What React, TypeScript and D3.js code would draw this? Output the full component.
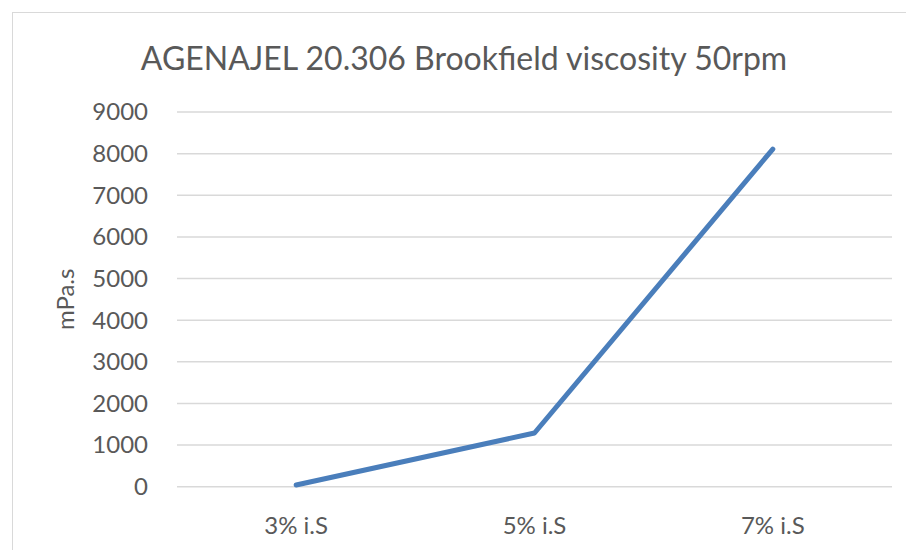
import React from 'react';
import * as d3 from 'd3';

const categories = ['3% i.S', '5% i.S', '7% i.S'];
const viscosity = [40, 1290, 8110];
const yTicks = [0, 1000, 2000, 3000, 4000, 5000, 6000, 7000, 8000, 9000];

const width = 906;
const height = 550;
const margin = { top: 112, right: 14, bottom: 63, left: 177 };
const font = 'Lato, "Open Sans", sans-serif';
const textColor = '#595959';

const App = () => {
  const x = d3
    .scaleBand()
    .domain(categories)
    .range([margin.left, width - margin.right])
    .padding(0);
  const y = d3
    .scaleLinear()
    .domain([0, 9000])
    .range([height - margin.bottom - 0.3, margin.top]);

  const line = d3
    .line<number>()
    .x((d, i) => (x(categories[i]) as number) + x.bandwidth() / 2)
    .y((d) => y(d));

  return (
    <svg
      width={width}
      height={height}
      style={{ position: 'absolute', left: 0, top: 0, background: '#fff' }}
    >
      <rect x={12.5} y={12.5} width={width} height={height} fill="#fff" stroke="#d9d9d9" />
      <text
        x={464}
        y={70}
        textAnchor="middle"
        fontFamily={font}
        fontSize={32}
        fill={textColor}
      >
        AGENAJEL 20.306 Brookfield viscosity 50rpm
      </text>
      {yTicks.map((t) => (
        <g key={t}>
          <line
            x1={margin.left}
            x2={width - margin.right}
            y1={y(t)}
            y2={y(t)}
            stroke="#d9d9d9"
            strokeWidth={1.5}
          />
          <text
            x={148}
            y={y(t)}
            dy="0.35em"
            textAnchor="end"
            fontFamily={font}
            fontSize={24}
            fill={textColor}
          >
            {t}
          </text>
        </g>
      ))}
      {categories.map((c) => (
        <text
          key={c}
          x={(x(c) as number) + x.bandwidth() / 2}
          y={526}
          dy="0.35em"
          textAnchor="middle"
          fontFamily={font}
          fontSize={24}
          fill={textColor}
        >
          {c}
        </text>
      ))}
      <text
        transform={`translate(74,${(y(0) + y(9000)) / 2}) rotate(-90)`}
        textAnchor="middle"
        fontFamily={font}
        fontSize={24}
        fill={textColor}
      >
        mPa.s
      </text>
      <path
        d={line(viscosity) || ''}
        fill="none"
        stroke="#4a7ebb"
        strokeWidth={5}
        strokeLinecap="round"
        strokeLinejoin="round"
      />
    </svg>
  );
};

export default App;
